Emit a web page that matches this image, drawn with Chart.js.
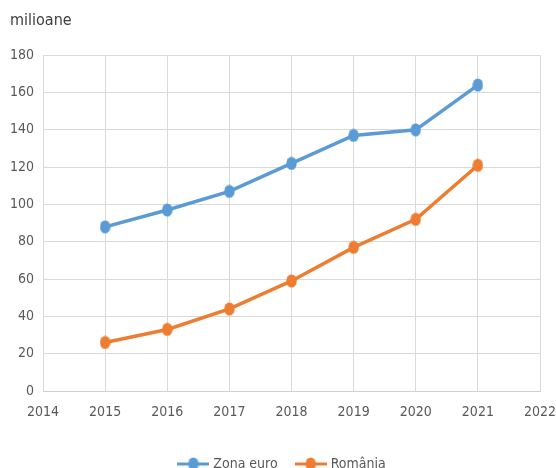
<!DOCTYPE html>
<html>
<head>
<meta charset="utf-8">
<script src="https://cdn.jsdelivr.net/npm/chart.js@4"></script>
<style>
  html, body { margin: 0; padding: 0; background: #fff; overflow: hidden; }
  #wrap { position: relative; width: 556px; height: 481px; }
</style>
</head>
<body>
<div id="wrap"><canvas id="chart"></canvas></div>
<script>
// Data
const years = [2015, 2016, 2017, 2018, 2019, 2020, 2021];
const zonaEuro = [88, 97, 107, 122, 137, 140, 164];
const romania = [26, 33, 44, 59, 77, 92, 121];
const seriesNames = ['Zona euro', 'România'];
const yTicks = [0, 20, 40, 60, 80, 100, 120, 140, 160, 180];

const BLUE = '#5B9BD5';
const ORANGE = '#ED7D31';
const TEXT = '#595959';

// use a narrow face if the machine has one
function hasFont(name) {
    const g = document.createElement('canvas').getContext('2d');
    g.font = '20px monospace';
    const a = g.measureText('2014 milioane România').width;
    g.font = '20px "' + name + '", monospace';
    return g.measureText('2014 milioane România').width !== a;
}
const narrow = hasFont('Liberation Sans Narrow');
const FONT = narrow ? '"Liberation Sans Narrow", sans-serif' : '"DejaVu Sans Condensed", sans-serif';
const TICK_SIZE = narrow ? 16 : 14;

// ellipse marker (points look slightly taller than wide)
function dot(color) {
    const c = document.createElement('canvas');
    c.width = 11; c.height = 14;
    const g = c.getContext('2d');
    g.fillStyle = color;
    g.beginPath();
    g.ellipse(5.5, 7, 5.2, 6.6, 0, 0, Math.PI * 2);
    g.fill();
    return c;
}

// legend marker: short line with a dot in the middle
function legendMarker(color) {
    const c = document.createElement('canvas');
    c.width = 32; c.height = 14;
    const g = c.getContext('2d');
    g.strokeStyle = color;
    g.lineWidth = 3;
    g.beginPath();
    g.moveTo(0, 7); g.lineTo(32, 7);
    g.stroke();
    g.drawImage(dot(color), 10.5, 0);
    return c;
}

const markers = [legendMarker(BLUE), legendMarker(ORANGE)];

function toPoints(values) {
    return years.map((y, i) => ({ x: y, y: values[i] }));
}

new Chart(document.getElementById('chart'), {
    type: 'line',
    data: {
        datasets: [{
            label: seriesNames[0],
            data: toPoints(zonaEuro),
            borderColor: BLUE,
            backgroundColor: BLUE,
            borderWidth: 3.5,
            pointStyle: dot(BLUE),
            pointRadius: 5,
            tension: 0
        }, {
            label: seriesNames[1],
            data: toPoints(romania),
            borderColor: ORANGE,
            backgroundColor: ORANGE,
            borderWidth: 3.5,
            pointStyle: dot(ORANGE),
            pointRadius: 5,
            tension: 0
        }]
    },
    options: {
        responsive: true,
        maintainAspectRatio: false,
        animation: false,
        layout: { padding: { left: 10, right: 0, top: 4, bottom: 0 } },
        plugins: {
            title: {
                display: true,
                text: 'milioane',
                align: 'start',
                color: '#404040',
                font: { family: FONT, size: TICK_SIZE + 2, weight: 'normal' },
                padding: { top: 7, bottom: 25 }
            },
            legend: {
                position: 'bottom',
                labels: {
                    usePointStyle: true,
                    pointStyleWidth: 26,
                    color: TEXT,
                    font: { family: FONT, size: TICK_SIZE },
                    padding: 20,
                    generateLabels: function(chart) {
                        return chart.data.datasets.map((ds, i) => ({
                            text: ds.label,
                            fontColor: TEXT,
                            pointStyle: markers[i],
                            datasetIndex: i,
                            hidden: false,
                            lineWidth: 0,
                            strokeStyle: 'transparent',
                            fillStyle: ds.borderColor
                        }));
                    }
                }
            },
            tooltip: { enabled: false }
        },
        scales: {
            x: {
                type: 'linear',
                min: 2014,
                max: 2022,
                grid: { color: '#d9d9d9', lineWidth: 1, drawTicks: false },
                border: { color: '#cfcfcf' },
                ticks: {
                    stepSize: 1,
                    color: TEXT,
                    font: { family: FONT, size: TICK_SIZE },
                    padding: 13,
                    callback: function(value) { return String(value); }
                },
                afterFit: function(scale) {
                    scale.height = 46;
                    scale.paddingLeft = 0;
                    scale.paddingRight = 16;
                }
            },
            y: {
                min: 0,
                max: 180,
                afterBuildTicks: function(scale) {
                    scale.ticks = yTicks.map(v => ({ value: v }));
                },
                grid: { color: '#d9d9d9', lineWidth: 1, drawTicks: false },
                border: { display: false },
                ticks: {
                    color: TEXT,
                    font: { family: FONT, size: TICK_SIZE },
                    padding: 9
                },
                afterFit: function(scale) { scale.width = 33; }
            }
        }
    }
});
</script>
</body>
</html>
